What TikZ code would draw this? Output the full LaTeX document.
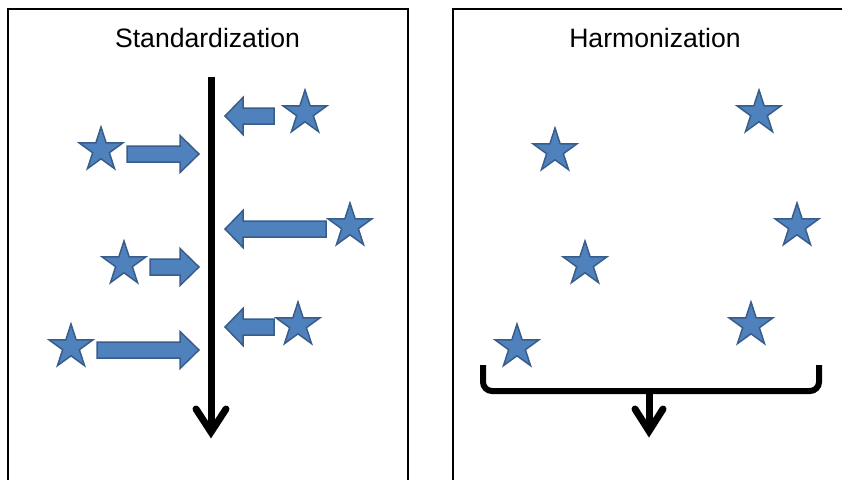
\documentclass[tikz,border=0pt]{standalone}
\usepackage{fontspec}
\setmainfont{Liberation Sans}
\usetikzlibrary{shapes.geometric}
\definecolor{starfill}{HTML}{4F81BD}
\definecolor{starline}{HTML}{385D8A}
\tikzset{
  panel/.style={draw=black, line width=2},
  title/.style={anchor=base, inner sep=0, font=\fontsize{26.6}{30}\selectfont},
  starnode/.style={shape=star, star points=5, star point ratio=2.618,
    minimum size=46, inner sep=0, fill=starfill, draw=starline, line width=1.5},
  blockarrow/.style={fill=starfill, draw=starline, line width=1.5, line join=miter},
  flowline/.style={draw=black, line width=7},
  barb/.style={draw=black, line width=7, line cap=round, line join=miter},
  bracketline/.style={draw=black, line width=6, rounded corners=9}
}
% block arrow: tail x, tip x, centre y, head length (signed)
\newcommand\blockarr[4]{%
  \path[blockarrow] (#1,#3-8) -- (#2-#4,#3-8) -- (#2-#4,#3-18.5) -- (#2,#3)
    -- (#2-#4,#3+18.5) -- (#2-#4,#3+8) -- (#1,#3+8) -- cycle;}
\begin{document}
\begin{tikzpicture}[x=1pt,y=-1pt]
\useasboundingbox (0,0) rectangle (842,479);
\clip (0,0) rectangle (842,479);

% panels
\draw[panel] (7.5,9) rectangle (408,495);
\draw[panel] (453,9) rectangle (860,495);
\node[title] (std) at (207.5,47.5) {Standardization};
\node[title] (harm) at (655,47.5) {Harmonization};

% standardization: stars feeding into one line
\coordinate (lineTop) at (211,77);
\coordinate (lineEnd) at (211,432);
\draw[flowline] (lineTop) -- (lineEnd);
\draw[barb] (196,409) -- (lineEnd) -- (226,409);

\node[starnode] (s1) at (101,150) {};
\node[starnode] (s2) at (124,264) {};
\node[starnode] (s3) at (71,347) {};
\node[starnode] (s4) at (305,113) {};
\node[starnode] (s5) at (350,226) {};
\node[starnode] (s6) at (298,325) {};

\blockarr{127}{199}{154}{19}
\blockarr{150}{199}{267}{19}
\blockarr{97}{199}{350}{19}
\blockarr{274}{225}{116}{-18}
\blockarr{326}{225}{229}{-18}
\blockarr{274}{225}{327}{-18}

% harmonization: scattered stars gathered by a bracket
\node[starnode] (h1) at (555,151) {};
\node[starnode] (h2) at (759,113) {};
\node[starnode] (h3) at (797,226) {};
\node[starnode] (h4) at (585,264) {};
\node[starnode] (h5) at (751,325) {};
\node[starnode] (h6) at (517,347) {};

\coordinate (brL) at (483,365);
\coordinate (brR) at (819,365);
\coordinate (brMid) at (649,391);
\coordinate (brEnd) at (649,431);
\draw[bracketline] (brL) -- (483,391) -- (819,391) -- (brR);
\draw[flowline] (brMid) -- (brEnd);
\draw[barb] (635,409) -- (brEnd) -- (663,409);
\end{tikzpicture}
\end{document}
